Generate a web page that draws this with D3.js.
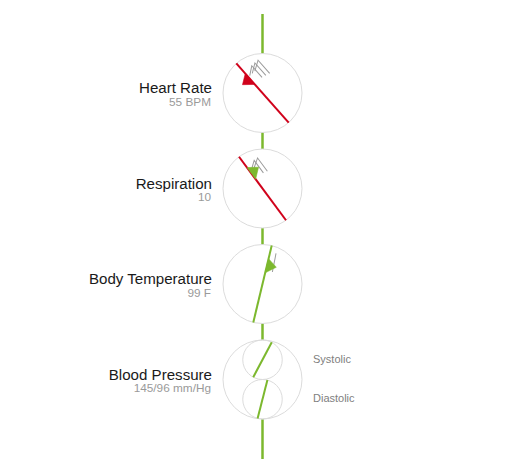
<!DOCTYPE html>
<html>
<head>
<meta charset="utf-8">
<script src="https://cdn.jsdelivr.net/npm/d3@7"></script>
<style>
  html, body { margin: 0; padding: 0; background: #fff; }
  svg { display: block; }
  text { font-family: "Helvetica Neue", Helvetica, Arial, "Liberation Sans", sans-serif; }
</style>
</head>
<body>
<div id="chart"></div>
<script>
// ---- data ----
const metrics = ["Heart Rate", "Respiration", "Body Temperature", "Blood Pressure"];
const readings = ["55 BPM", "10", "99 F", "145/96 mm/Hg"];
// dial glyphs (first three metrics): needle angle in degrees from vertical (clockwise)
const needleAngles = [-41.5, -36.5, 13.5];
const needleStatus = ["alert", "alert", "normal"];
const flagStatus = ["alert", "normal", "normal"];
const flagSide = [-1, 1, 1];
const barbCounts = [3, 2, 1];
const barbKinds = ["chevron", "chevron", "tick"];
// blood pressure sub-dials
const bpParts = ["Systolic", "Diastolic"];
const bpAngles = [28, 14.4];

// ---- layout ----
const W = 527, H = 471;
const cx = 262.5, R = 39.5;
const svg = d3.select("#chart").append("svg").attr("width", W).attr("height", H);

const y = d3.scalePoint().domain(metrics).range([93, 379.5]);
const deg = d3.scaleLinear().domain([0, 360]).range([0, 360]);
const color = d3.scaleOrdinal().domain(["alert", "normal"]).range(["#d0021b", "#7cb82e"]);

// spine
svg.append("line")
  .attr("x1", cx).attr("x2", cx).attr("y1", 14).attr("y2", 459)
  .attr("stroke", "#7cb82e").attr("stroke-width", 2.5);

// circles
svg.selectAll("circle.outer").data(metrics).join("circle")
  .attr("class", "outer")
  .attr("cx", cx).attr("cy", d => y(d)).attr("r", R)
  .attr("fill", "#fff").attr("stroke", "#dcdcdc").attr("stroke-width", 1);

// labels
const lab = svg.selectAll("g.lab").data(metrics).join("g").attr("class", "lab");
lab.append("text")
  .attr("x", 212).attr("y", d => y(d) + 0.3)
  .attr("text-anchor", "end").attr("font-size", 15.1).attr("fill", "#1a1a1a")
  .text(d => d);
lab.append("text")
  .attr("x", 211).attr("y", (d) => y(d) + 12.8)
  .attr("text-anchor", "end").attr("font-size", 11.8).attr("fill", "#9a9a9a")
  .text((d, i) => readings[i]);

// dial glyphs
const dials = metrics.slice(0, 3).map((m, i) => ({
  m, angle: needleAngles[i], needle: needleStatus[i], flag: flagStatus[i],
  side: flagSide[i], barbs: barbCounts[i], kind: barbKinds[i]
}));
const g = svg.selectAll("g.dial").data(dials).join("g")
  .attr("class", "dial")
  .attr("transform", d => `translate(${cx},${y(d.m)}) rotate(${deg(d.angle)})`);

// barbs — local coords: x = perpendicular offset, y = -along needle
const shapes = {
  chevron: k => [[2 + 3.4 * k, -21.5], [10 + 4.2 * k, -27.5], [10 + 4.2 * k, -12 + k]],
  tick: k => [[6 + 3 * k, -33], [6.8 + 3 * k, -14]]
};
g.each(function (d) {
  const sel = d3.select(this);
  d3.range(d.barbs).forEach(k => {
    sel.append("path")
      .attr("d", d3.line()(shapes[d.kind](k)))
      .attr("fill", "none").attr("stroke", "#9b9b9b").attr("stroke-width", 1);
  });
});
g.append("line")
  .attr("x1", 0).attr("x2", 0).attr("y1", -R).attr("y2", R)
  .attr("stroke", d => color(d.needle)).attr("stroke-width", 2);
g.append("path")
  .attr("d", d => d3.line()([[0, -26], [9.5 * d.side, -19.5], [0, -11.5]]) + "Z")
  .attr("fill", d => color(d.flag)).attr("stroke", d => color(d.flag)).attr("stroke-width", 0.5);

// blood pressure
const bpY = y("Blood Pressure");
const bp = svg.selectAll("g.bp").data(bpParts).join("g")
  .attr("class", "bp")
  .attr("transform", (d, i) => `translate(${cx},${bpY + (i === 0 ? -R / 2 : R / 2)})`);
bp.append("circle").attr("r", R / 2)
  .attr("fill", "none").attr("stroke", "#dcdcdc").attr("stroke-width", 1);
bp.append("line")
  .attr("transform", (d, i) => `rotate(${deg(bpAngles[i])})`)
  .attr("x1", 0).attr("x2", 0).attr("y1", -R / 2).attr("y2", R / 2)
  .attr("stroke", color("normal")).attr("stroke-width", 2);
bp.append("text")
  .attr("x", 50.5).attr("y", 3)
  .attr("font-size", 11).attr("fill", "#808080")
  .text(d => d);
</script>
</body>
</html>
